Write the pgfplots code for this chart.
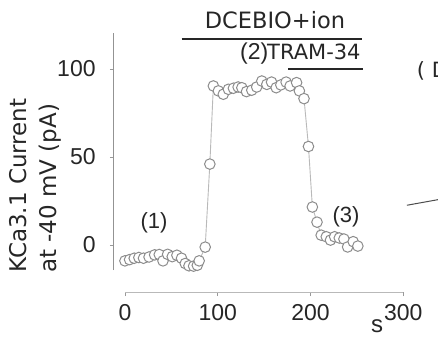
\documentclass[border=0pt]{standalone}
\usepackage{pgfplots}
\pgfplotsset{compat=1.18}
\usepackage{fontspec}
\setmainfont{Liberation Sans}
\newfontfamily\dv{DejaVu Sans}
\begin{document}
\begin{tikzpicture}
\path[use as bounding box] (0bp,0bp) rectangle (438bp,338bp);
\begin{axis}[
  at={(113.8bp,46bp)}, anchor=south west,
  scale only axis, width=289.5bp, height=259bp,
  xmin=-12, xmax=300, ymin=-26.7, ymax=120.5,
  axis line style={draw=none},
  tick pos=left, tick align=outside,
  major tick length=4bp,
  tick style={color=gray!80, line width=0.8bp},
  xtick={0,100,200,300}, ytick={0,50,100},
  ticklabel style={font=\fontsize{23bp}{27bp}\selectfont, inner sep=0pt, text=black!85},
  /pgf/number format/assume math mode=true,
  yticklabel style={xshift=-14bp},
  xticklabel style={yshift=-8bp},
  clip=false,
]
\draw[gray!85, line width=1.1bp] (axis cs:-12,-14.2) -- (axis cs:-12,120.5);
\draw[gray!55, line width=1bp] (axis cs:0,-26.7) -- (axis cs:300,-26.7);
\addplot[gray!55, line width=0.9bp, mark=*, mark size=5.3bp,
  mark options={fill=white, draw=gray!90, line width=1bp}] coordinates {
(0,-9) (5,-8.3) (10,-7.5) (15,-7.1) (20,-7.5) (26,-6.8) (32,-5.6) (37,-5.4)
(41,-9) (46,-5.3) (51,-6.6) (56,-5.8) (61,-7.5) (65,-10.5) (69,-11.8) (74,-12)
(78,-11.5) (80,-9) (86.5,-1.2)
(91.5,46) (95.3,90.4) (100.7,87.6) (106,85.7) (111.5,88.5) (116.9,89.1)
(122,89.8) (126,89.4) (131,87.2) (136.7,88) (142,89.8) (147.5,93.2)
(152.9,91.3) (158,92.6) (163,89.4) (168,91) (173.7,92.6) (178,90.4)
(185,92.3) (188,87.6) (193,83.2) (197.8,56)
(202,21.6) (207,13) (211.5,5.6) (217,4.7) (221.5,2.8) (226,4.7) (231,4)
(236,3.4) (240,-1.1) (246,1.9) (251,-0.6)
};
\addplot[black!70, line width=1bp] coordinates {(303.9,22.6) (337.6,25.8)};
\draw[black!85, line width=2bp] (axis cs:61.2,117.3) -- (axis cs:255.3,117.3);
\draw[black!85, line width=2bp] (axis cs:175.8,100) -- (axis cs:256.7,100);
\end{axis}
\node[anchor=base, inner sep=0pt, text=black!85, font=\dv\fontsize{22.5bp}{26bp}\selectfont] at (275bp,309bp) {DCEBIO+ion};
\node[anchor=base west, inner sep=0pt, text=black!85, font=\fontsize{23bp}{27bp}\selectfont] at (240bp,278bp) {(2)};
\node[anchor=base west, inner sep=0pt, text=black!85, font=\dv\fontsize{21bp}{25bp}\selectfont] at (267bp,278bp) {TRAM-34};
\node[anchor=base, inner sep=0pt, text=black!85, font=\fontsize{22bp}{26bp}\selectfont] at (154bp,109.2bp) {(1)};
\node[anchor=base, inner sep=0pt, text=black!85, font=\fontsize{22bp}{26bp}\selectfont] at (346bp,115.8bp) {(3)};
\node[anchor=base, inner sep=0pt, text=black!85, font=\fontsize{24bp}{28bp}\selectfont] at (377bp,5.5bp) {s};
\node[anchor=base west, inner sep=0pt, text=black!85, font=\dv\fontsize{21bp}{25bp}\selectfont] at (416.7bp,260bp) {( D};
\node[rotate=90, anchor=base west, inner sep=0pt, text=black!85, font=\dv\fontsize{23bp}{27bp}\selectfont] at (26bp,65bp) {KCa3.1 Current};
\node[rotate=90, anchor=base west, inner sep=0pt, text=black!85, font=\dv\fontsize{23bp}{27bp}\selectfont] at (56bp,65bp) {at -40 mV (pA)};
\end{tikzpicture}
\end{document}
